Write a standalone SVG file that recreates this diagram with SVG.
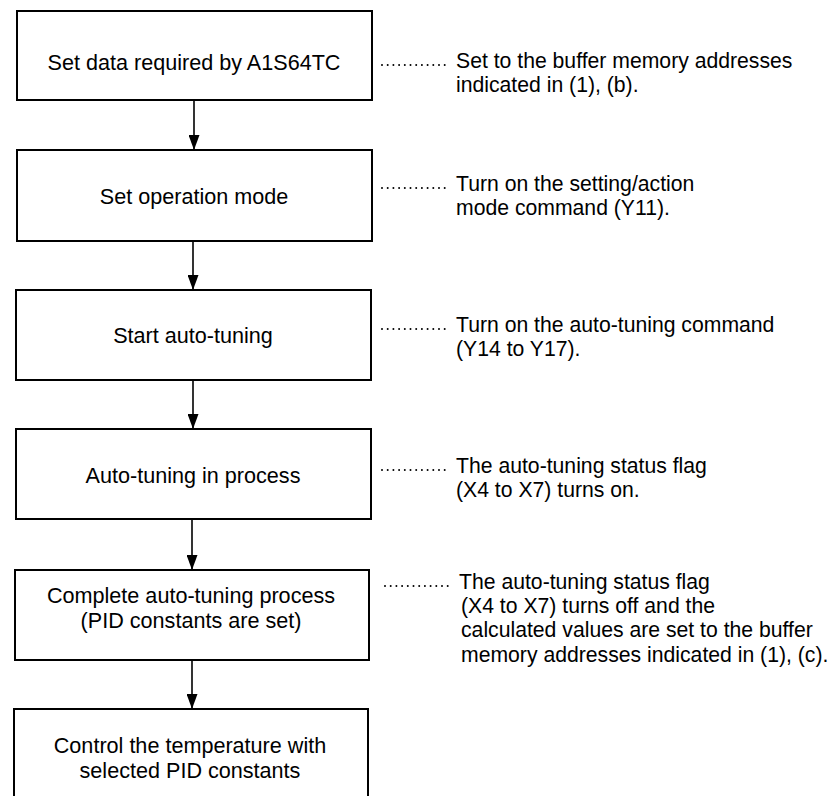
<svg xmlns="http://www.w3.org/2000/svg" width="831" height="796" viewBox="0 0 831 796">
<defs>
<marker id="ah" markerWidth="15" markerHeight="11" refX="15" refY="5.5" orient="auto" markerUnits="userSpaceOnUse" viewBox="0 0 15 11">
<path d="M0,0 L15,5.5 L0,11 Z" fill="#000"/>
</marker>
<style>
.box{fill:#fff;stroke:#000;stroke-width:2}
.t{font-family:"Liberation Sans",Arial,Helvetica,sans-serif;font-size:21.2px;fill:#000}
.b{font-size:21.6px}
.c{text-anchor:middle}
.conn{stroke:#000;stroke-width:1.6;fill:none}
.dots{stroke:#000;stroke-width:2;stroke-linecap:round;stroke-dasharray:0 5.7;fill:none}
</style>
</defs>
<rect width="831" height="796" fill="#fff"/>
<g id="connectors">
<line class="conn" x1="194" y1="100" x2="194" y2="150" marker-end="url(#ah)"/>
<line class="conn" x1="193" y1="241" x2="193" y2="290" marker-end="url(#ah)"/>
<line class="conn" x1="193" y1="380" x2="193" y2="429" marker-end="url(#ah)"/>
<line class="conn" x1="192" y1="519" x2="192" y2="570" marker-end="url(#ah)"/>
<line class="conn" x1="192" y1="660" x2="192" y2="709" marker-end="url(#ah)"/>
</g>
<g id="node1">
<rect class="box" x="17" y="11" width="355" height="89"/>
<text class="t b c" x="194" y="70">Set data required by A1S64TC</text>
</g>
<g id="node2">
<rect class="box" x="17" y="150" width="355" height="91"/>
<text class="t b c" x="194" y="204">Set operation mode</text>
</g>
<g id="node3">
<rect class="box" x="16" y="290" width="355" height="90"/>
<text class="t b c" x="193" y="343">Start auto-tuning</text>
</g>
<g id="node4">
<rect class="box" x="16" y="429" width="355" height="90"/>
<text class="t b c" x="193" y="483">Auto-tuning in process</text>
</g>
<g id="node5">
<rect class="box" x="15" y="570" width="354" height="90"/>
<text class="t b c" x="191" y="603">Complete auto-tuning process</text>
<text class="t b c" x="191" y="628">(PID constants are set)</text>
</g>
<g id="node6">
<rect class="box" x="14" y="709" width="354" height="100"/>
<text class="t b c" x="190" y="753">Control the temperature with</text>
<text class="t b c" x="190" y="778">selected PID constants</text>
</g>
<g id="note1">
<line class="dots" x1="382" y1="65" x2="450" y2="65"/>
<text class="t" x="456" y="68">Set to the buffer memory addresses</text>
<text class="t" x="456" y="92">indicated in (1), (b).</text>
</g>
<g id="note2">
<line class="dots" x1="382" y1="188" x2="450" y2="188"/>
<text class="t" x="456" y="191">Turn on the setting/action</text>
<text class="t" x="456" y="215">mode command (Y11).</text>
</g>
<g id="note3">
<line class="dots" x1="382" y1="329" x2="450" y2="329"/>
<text class="t" x="456" y="332">Turn on the auto-tuning command</text>
<text class="t" x="456" y="356">(Y14 to Y17).</text>
</g>
<g id="note4">
<line class="dots" x1="382" y1="470" x2="450" y2="470"/>
<text class="t" x="456" y="473">The auto-tuning status flag</text>
<text class="t" x="456" y="497">(X4 to X7) turns on.</text>
</g>
<g id="note5">
<line class="dots" x1="385" y1="586" x2="453" y2="586"/>
<text class="t" x="459" y="589">The auto-tuning status flag</text>
<text class="t" x="461" y="613">(X4 to X7) turns off and the</text>
<text class="t" x="461" y="637">calculated values are set to the buffer</text>
<text class="t" x="461" y="662">memory addresses indicated in (1), (c).</text>
</g>
</svg>
